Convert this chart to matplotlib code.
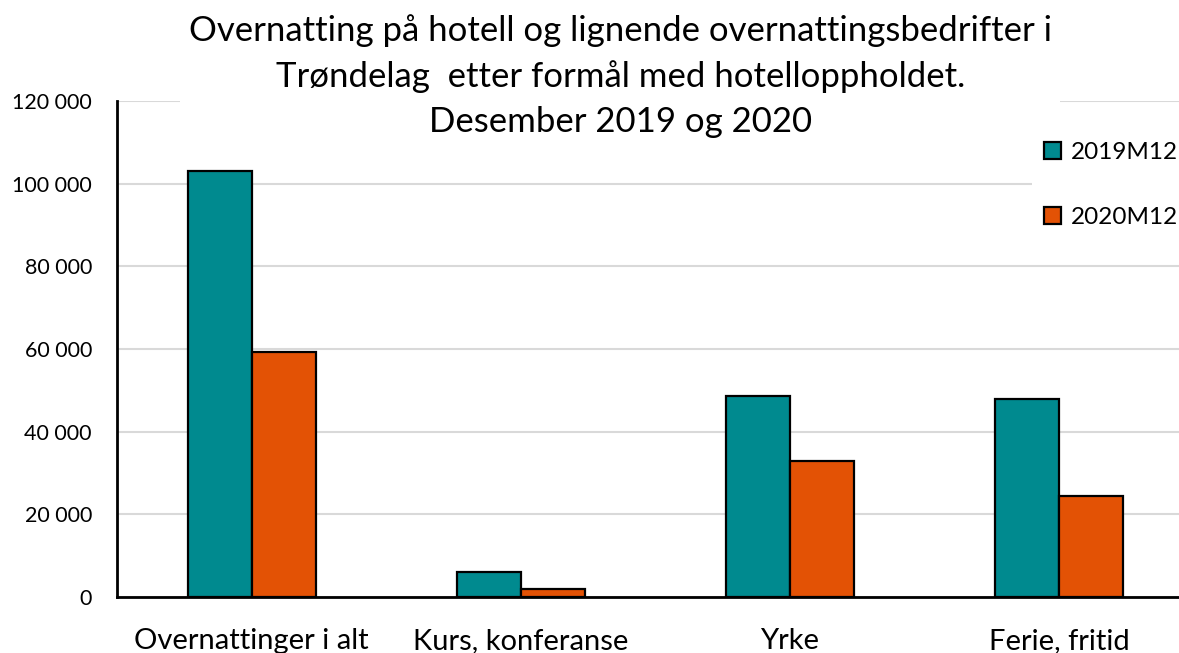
import matplotlib.pyplot as plt
import numpy as np

# Data
categories = ['Overnattinger i alt', 'Kurs, konferanse', 'Yrke', 'Ferie, fritid']
series_names = ['2019M12', '2020M12']
values_2019 = [103000, 6000, 48700, 48000]
values_2020 = [59200, 1900, 32800, 24500]
yticks = [0, 20000, 40000, 60000, 80000, 100000, 120000]

plt.rcParams['font.family'] = ['Lato', 'DejaVu Sans']

fig = plt.figure(figsize=(11.79, 6.53), dpi=100)
ax = fig.add_axes([117 / 1179, 56 / 653, 1076.5 / 1179, 496 / 653])

x = np.arange(len(categories))
w = 0.238
ax.bar(x - w / 2, values_2019, w, color='#008A8F', edgecolor='black',
       linewidth=1.6, label=series_names[0], zorder=3)
ax.bar(x + w / 2, values_2020, w, color='#E35205', edgecolor='black',
       linewidth=1.6, label=series_names[1], zorder=3)

ax.set_xlim(-0.5, 3.5)
ax.set_ylim(0, 120000)
ax.set_yticks(yticks)
ax.set_yticklabels([f'{v:,}'.replace(',', ' ') for v in yticks], fontsize=15.5)
ax.set_xticks(x)
ax.set_xticklabels(categories, fontsize=21)
ax.tick_params(axis='both', length=0)
ax.tick_params(axis='y', pad=18)
ax.tick_params(axis='x', pad=22)
ax.yaxis.grid(True, color='#D9D9D9', linewidth=1.5, zorder=0)
ax.set_axisbelow(True)

for s in ['top', 'right']:
    ax.spines[s].set_visible(False)
ax.spines['left'].set_linewidth(2)
ax.spines['bottom'].set_linewidth(2)

# Title with white box covering the gridlines
fig.text(0.526, 1 - 76 / 653,
         'Overnatting på hotell og lignende overnattingsbedrifter i\n'
         'Trøndelag  etter formål med hotelloppholdet.\n'
         'Desember 2019 og 2020',
         ha='center', va='center', fontsize=25, linespacing=1.48,
         bbox=dict(facecolor='white', edgecolor='none', pad=6), zorder=5)

leg = fig.legend(loc='upper left', bbox_to_anchor=(1020 / 1179, 1 - 118 / 653),
                 fontsize=17.5, frameon=True, labelspacing=1.8,
                 handlelength=0.7, handleheight=0.7, handletextpad=0.4,
                 borderpad=0.5)
leg.get_frame().set_edgecolor('none')
leg.get_frame().set_facecolor('white')
leg.get_frame().set_alpha(1)
for p in leg.get_patches():
    p.set_linewidth(1.6)

fig.savefig('out.png', dpi=100)
